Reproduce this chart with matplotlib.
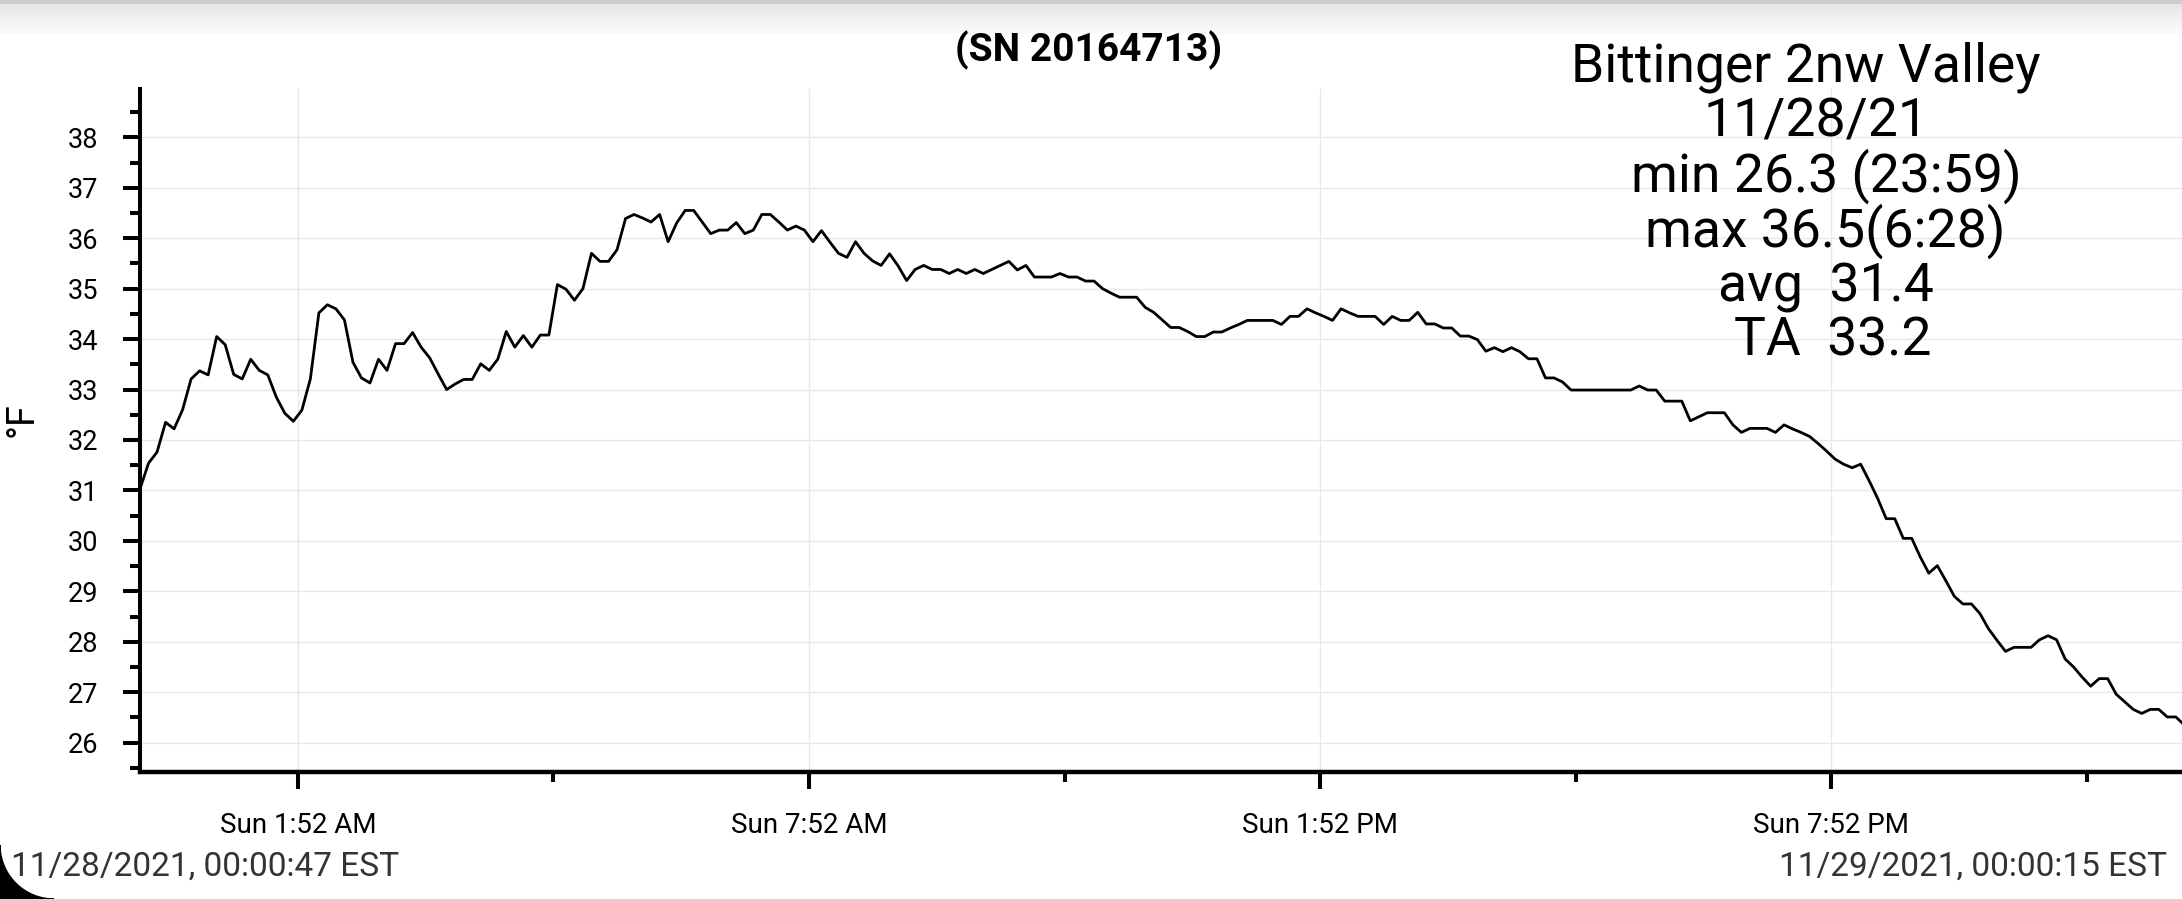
import numpy as np
import matplotlib
matplotlib.use('Agg')
import matplotlib.pyplot as plt
import matplotlib.dates as mdates
from matplotlib.patches import Polygon

plt.rcParams['font.family'] = ['Roboto', 'DejaVu Sans']

# logger readings, one every 6 minutes from 00:00:47
temps = [
    31.03, 31.54, 31.76, 32.35, 32.22, 32.60, 33.21, 33.37, 33.29, 34.05,
    33.89, 33.30, 33.21, 33.60, 33.38, 33.29, 32.85, 32.53, 32.37, 32.59,
    33.21, 34.52, 34.68, 34.60, 34.38, 33.54, 33.23, 33.13, 33.60, 33.38,
    33.91, 33.91, 34.13, 33.84, 33.63, 33.31, 33.00, 33.11, 33.20, 33.20,
    33.51, 33.38,
    33.60, 34.15, 33.84, 34.07, 33.84, 34.08, 34.08, 35.08, 34.99, 34.77,
    35.00, 35.70, 35.54, 35.54, 35.77, 36.39, 36.47, 36.40, 36.32, 36.47,
    35.93, 36.30, 36.55, 36.55, 36.32, 36.09, 36.16, 36.16, 36.31, 36.09,
    36.16, 36.47, 36.47, 36.32, 36.16, 36.24, 36.16, 35.93, 36.15, 35.92,
    35.70,
    35.62, 35.93, 35.70, 35.55, 35.46, 35.69, 35.45, 35.16, 35.38, 35.46,
    35.38, 35.38, 35.30, 35.38, 35.30, 35.38, 35.30, 35.38, 35.46, 35.54,
    35.37, 35.46, 35.23, 35.23, 35.23, 35.30, 35.23, 35.23, 35.15, 35.15,
    35.00, 34.91, 34.83, 34.83, 34.83, 34.63, 34.53, 34.38, 34.23, 34.23,
    34.15,
    34.05, 34.05, 34.14, 34.14, 34.22, 34.29, 34.37, 34.37, 34.37, 34.37,
    34.29, 34.45, 34.45, 34.60, 34.52, 34.45, 34.37, 34.60, 34.52, 34.45,
    34.45, 34.45, 34.29, 34.45, 34.37, 34.37, 34.53, 34.30, 34.30, 34.22,
    34.22, 34.06, 34.06, 33.99, 33.76, 33.83, 33.75, 33.83, 33.75, 33.61,
    33.61,
    33.23, 33.23, 33.15, 32.99, 32.99, 32.99, 32.99, 32.99, 32.99, 32.99,
    32.99, 33.07, 32.99, 32.99, 32.77, 32.77, 32.77, 32.38, 32.46, 32.54,
    32.54, 32.54, 32.30, 32.15, 32.23, 32.23, 32.23, 32.15, 32.30, 32.22,
    32.15, 32.07, 31.93, 31.78, 31.62, 31.52, 31.45, 31.52, 31.19, 30.84,
    30.44, 30.44, 30.05, 30.05, 29.68, 29.36, 29.51, 29.21, 28.90, 28.75,
    28.75, 28.56, 28.26, 28.03, 27.81, 27.89, 27.89, 27.89, 28.04, 28.12,
    28.04, 27.66, 27.50, 27.30, 27.12, 27.27, 27.27, 26.96, 26.81, 26.66,
    26.58, 26.66, 26.66, 26.51, 26.51, 26.35,
]
start = np.datetime64('2021-11-28T00:00:47')
end = np.datetime64('2021-11-29T00:00:15')
times = start + np.arange(len(temps)) * np.timedelta64(6, 'm')

major_times = ['2021-11-28T01:52', '2021-11-28T07:52', '2021-11-28T13:52', '2021-11-28T19:52']
major_labels = ['Sun 1:52 AM', 'Sun 7:52 AM', 'Sun 1:52 PM', 'Sun 7:52 PM']
minor_times = ['2021-11-28T04:52', '2021-11-28T10:52', '2021-11-28T16:52', '2021-11-28T22:52']

info_lines = ['Bittinger 2nw Valley', '11/28/21', 'min 26.3 (23:59)',
              'max 36.5(6:28)', 'avg  31.4', 'TA  33.2']

W, H = 2182, 899
fig = plt.figure(figsize=(W / 100, H / 100), dpi=100)

# grey shadow at the top of the screenshot
top = fig.add_axes([0, 1 - 40 / H, 1, 40 / H], zorder=-5)
g = np.ones((40, 1))
g[:4] = 0.80
g[4:] = np.linspace(0.90, 1.0, 36)[:, None]
g[34:] = 1.0
top.imshow(g, cmap='gray', vmin=0, vmax=1, aspect='auto')
top.axis('off')

ax = fig.add_axes([140 / W, (H - 771.7) / H, 2043.6 / W, (771.7 - 89) / H])
ax.plot(mdates.date2num(times), temps, color='black', lw=2.0)

ax.set_xlim(mdates.date2num(start), mdates.date2num(end))
ax.set_ylim(25.425, 38.957)

ax.set_xticks(mdates.date2num(np.array(major_times, dtype='datetime64[m]')))
ax.set_xticklabels(major_labels)
ax.set_xticks(mdates.date2num(np.array(minor_times, dtype='datetime64[m]')), minor=True)
ax.set_yticks(np.arange(26, 39, 1))
ax.set_yticks(np.arange(25.5, 39, 1), minor=True)

for s in ['top', 'right']:
    ax.spines[s].set_visible(False)
ax.spines['left'].set_linewidth(2.9)
ax.spines['bottom'].set_linewidth(3.2)

ax.tick_params(axis='y', which='major', length=12, width=2.9, pad=18, labelsize=19.5)
ax.tick_params(axis='x', which='major', length=12, width=2.9, pad=17, labelsize=20)
ax.tick_params(which='minor', length=7, width=2.9)

ax.grid(True, which='major', color='#e8e8e8', lw=1.0)
ax.set_axisbelow(True)

fig.text(22 / W, 1 - 420 / H, '°F', rotation=90, ha='center', va='center', fontsize=27)

fig.text(1089 / W, 1 - 61.7 / H, '(SN 20164713)', fontsize=28, fontweight='bold',
         ha='center', va='baseline')

centers = [1806, 1816, 1826, 1825, 1826, 1833]
baselines = [81.7, 137, 191.7, 246.7, 301.7, 356]
for s, cx, by in zip(info_lines, centers, baselines):
    fig.text(cx / W, 1 - by / H, s, fontsize=38.5, ha='center', va='baseline')

fig.text(11 / W, 1 - 876 / H, '11/28/2021, 00:00:47 EST', fontsize=24,
         color='#333333', ha='left', va='baseline')
fig.text(2167 / W, 1 - 876 / H, '11/29/2021, 00:00:15 EST', fontsize=24,
         color='#333333', ha='right', va='baseline')

# rounded black screen corner, bottom left
r = 54
th = np.linspace(np.pi, 1.5 * np.pi, 40)
verts = [(0, 0)] + [((r + r * np.cos(a)) / W, (r + r * np.sin(a)) / H) for a in th]
fig.patches.append(Polygon(verts, closed=True, color='black', transform=fig.transFigure))

fig.savefig('out.png', dpi=100)
